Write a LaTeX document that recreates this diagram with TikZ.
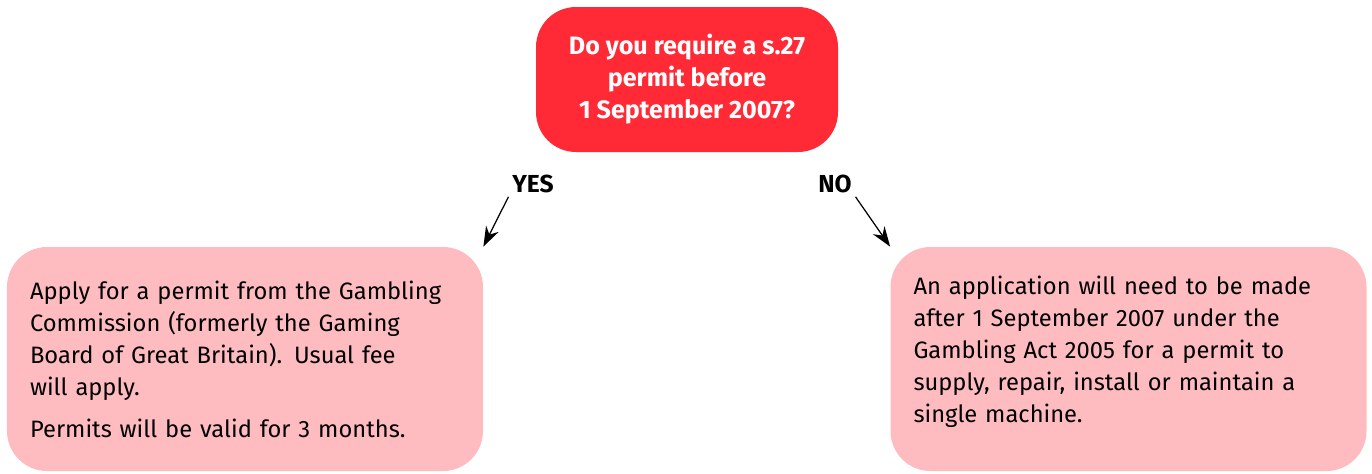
\documentclass[tikz,border=0pt]{standalone}
\usepackage{fontspec}
\setmainfont{Fira Sans}
\usepackage{tikz}
\usetikzlibrary{arrows.meta}

\definecolor{askred}{HTML}{FF2A35}
\definecolor{answerpink}{HTML}{FFBCC0}

\tikzset{
  question/.style={fill=askred, text=white, rounded corners=0.8cm, align=center,
    minimum width=6.04cm, minimum height=2.9cm, font=\bfseries\fontsize{14.3}{18.2}\selectfont},
  answer/.style={fill=answerpink, rounded corners=0.8cm, align=left, text width=8.6cm,
    minimum width=9.52cm, minimum height=4.48cm, font=\fontsize{13.5}{18.2}\selectfont},
  choice/.style={font=\bfseries\fontsize{14}{16}\selectfont, inner sep=2pt},
  arr/.style={-{Stealth[length=4mm,width=2.8mm]}, line width=0.7pt}
}

\begin{document}
\begin{tikzpicture}
    \useasboundingbox (0,0) rectangle (27.44,-9.46);

    % Question
    \node[question] (ask) at (13.74,-1.59) {Do you require a s.27\\ permit before\\ 1 September 2007?};

    % Answers
    \node[choice] (yes) at (10.66,-3.68) {YES};
    \node[choice] (no) at (16.70,-3.68) {NO};

    % Outcome boxes
    \node[answer] (apply) at (4.9,-7.18) {Apply for a permit from the Gambling\\ Commission (formerly the Gaming\\ Board of Great Britain). Usual fee\\ will apply.\\[0.2cm] Permits will be valid for 3 months.};
    \node[answer] (later) at (22.57,-7.18) {An application will need to be made\\ after 1 September 2007 under the\\ Gambling Act 2005 for a permit to\\ supply, repair, install or maintain a\\ single machine.\\[-0.24cm]\mbox{}};

    % Arrows
    \draw[arr] (yes.south west) -- (apply.north east);
    \draw[arr] (no.south east) -- (later.north west);
\end{tikzpicture}
\end{document}
